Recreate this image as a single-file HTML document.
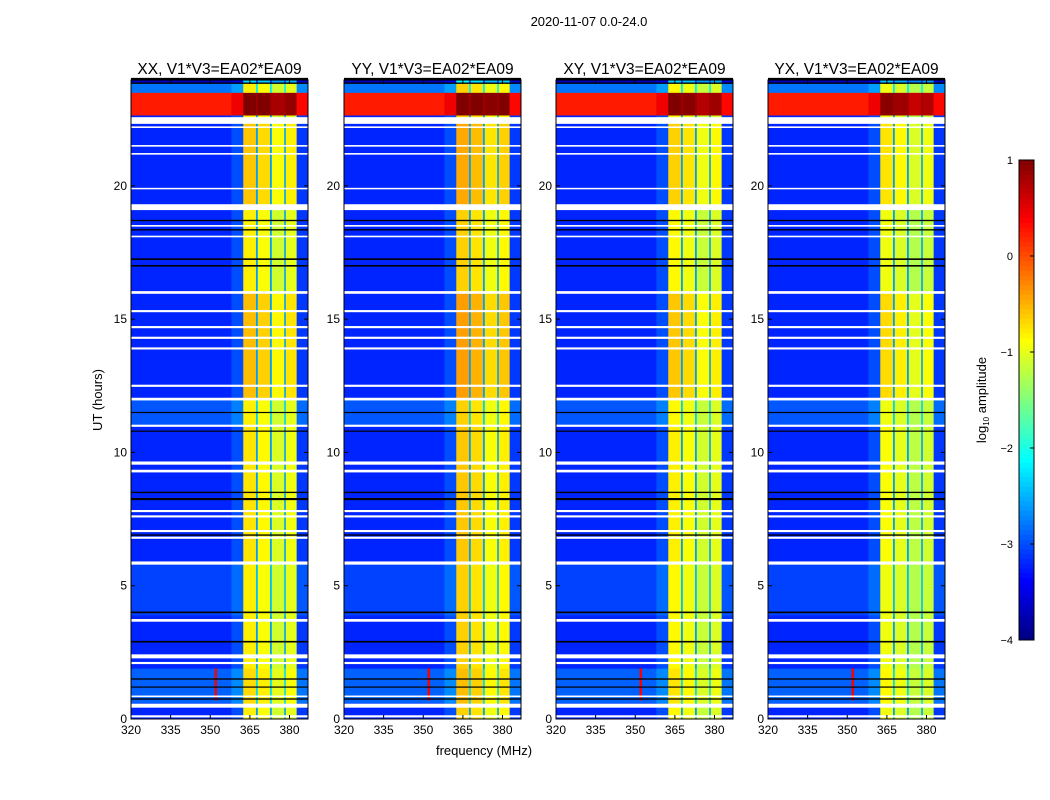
<!DOCTYPE html>
<html><head><meta charset="utf-8"><style>
html,body{margin:0;padding:0;background:#fff;}
svg{display:block;font-family:"Liberation Sans",sans-serif;}
</style></head><body>
<svg id="chart" width="1050" height="800" viewBox="0 0 1050 800" xmlns="http://www.w3.org/2000/svg">
<text x="589" y="26" font-size="13" text-anchor="middle">2020-11-07 0.0-24.0</text>
<text x="0" y="0" font-size="13" text-anchor="middle" transform="translate(102,400) rotate(-90)">UT (hours)</text>
<text x="484" y="755" font-size="13" text-anchor="middle">frequency (MHz)</text>
<g id="panels"></g>
<g id="cbar"></g>
<text font-size="13" text-anchor="middle" transform="translate(986,400) rotate(-90)">log<tspan font-size="8" dy="3">10</tspan><tspan dy="-3"> amplitude</tspan></text>
</svg>
<script>
const panelTitles = ["XX, V1*V3=EA02*EA09","YY, V1*V3=EA02*EA09","XY, V1*V3=EA02*EA09","YX, V1*V3=EA02*EA09"];
const freqBands = [[320,358],[358,362.5],[362.5,367.3],[367.3,368],[368,372.6],[372.6,373.3],[373.3,378],[378,378.6],[378.6,382.7],[382.7,387]];
const bandLevels = [-3.2,-3.0,-0.8,-2.6,-0.9,-2.6,-1.1,-2.6,-1.0,-3.1];
const brightBand = [0,0,1,0,1,0,1,0,1,0];
const panelBrightAdd = [0,0.15,-0.05,-0.15];
const timeSegs = [[0,0.6,0,0],[0.6,1.9,0.3,0.1],[1.9,3.9,0,0],[3.9,5.9,0.15,0],[5.9,11.0,0,0.05],[11.0,12.0,0.25,0],[12.0,16.0,0,0.25],[16.0,19.2,0,0],[19.2,22.45,0,0.2],[22.45,22.65,0,0],[22.65,23.5,3.45,1.9],[23.5,23.85,0.4,0],[23.85,24,-0.5,-1.5]];
const whiteLines = [[0.1,0.08],[0.5,0.15],[0.85,0.06],[2.1,0.08],[2.35,0.15],[3.7,0.1],[5.85,0.12],[6.8,0.08],[7.05,0.08],[7.6,0.08],[7.8,0.08],[9.3,0.1],[9.6,0.12],[11.0,0.08],[12.0,0.1],[12.5,0.08],[13.9,0.08],[14.3,0.08],[14.7,0.08],[15.3,0.08],[16.0,0.1],[18.1,0.06],[18.5,0.06],[19.2,0.22],[19.9,0.05],[21.2,0.06],[21.5,0.06],[22.2,0.06],[22.45,0.25]];
const blackLines = [[0.75,0.05],[1.2,0.04],[1.5,0.05],[2.9,0.06],[4.0,0.06],[6.9,0.05],[8.25,0.08],[8.5,0.05],[10.8,0.04],[11.5,0.04],[17.0,0.06],[17.25,0.06],[18.35,0.05],[18.7,0.05],[23.85,0.05],[24.0,0.1]];
const rfiSpike = [352.0,0.7,1.9,0.4];
const yTicks = [0,5,10,15,20];
const xTicks = [320,335,350,365,380];
const cbTicks = [1,0,-1,-2,-3,-4];
const panelX = [131,344,556,768];
const PW=177, PT=80, PB=719;
const NS="http://www.w3.org/2000/svg";
function yS(t){return PB-(t/24)*(PB-PT+0.8);}
function xS(x0,f){return x0+(f-320)*(PW/(387-320));}
function jet(v){let t=(v+4)/5;t=Math.max(0,Math.min(1,t));
 const c=k=>Math.round(255*Math.max(0,Math.min(1,1.5-Math.abs(4*t-k))));
 return `rgb(${c(3)},${c(2)},${c(1)})`;}
function mk(tag,attrs,parent){const e=document.createElementNS(NS,tag);for(const k in attrs)e.setAttribute(k,attrs[k]);parent.appendChild(e);return e;}
const panels=document.getElementById('panels');
panelX.forEach((x0,p)=>{
 const g=mk('g',{},panels);
 
 
 const tt=mk('text',{x:x0+PW/2,y:74,'font-size':15.5,'text-anchor':'middle'},g);
 tt.textContent=panelTitles[p];
 
 
 timeSegs.forEach(s=>{
  freqBands.forEach((b,i)=>{
   let v=bandLevels[i]+(brightBand[i]?s[3]+panelBrightAdd[p]:s[2]);
   const r=mk('rect',{x:xS(x0,b[0]),y:yS(s[1]),width:xS(x0,b[1])-xS(x0,b[0])+0.3,height:yS(s[0])-yS(s[1])+0.3,fill:jet(v)},g);
   
   
  });
 });
 const sp=mk('rect',{x:xS(x0,rfiSpike[0])-1,y:yS(rfiSpike[2]),width:2.5,height:yS(rfiSpike[1])-yS(rfiSpike[2]),fill:jet(rfiSpike[3])},g);
 
 
 whiteLines.forEach(l=>{const r=mk('rect',{x:x0,y:yS(l[0]+l[1]/2),width:PW,height:Math.max(1.5,yS(l[0]-l[1]/2)-yS(l[0]+l[1]/2)),fill:'#fff'},g);
  
  });
 blackLines.forEach(l=>{const r=mk('rect',{x:x0,y:yS(l[0]+l[1]/2),width:PW,height:Math.max(1.2,yS(l[0]-l[1]/2)-yS(l[0]+l[1]/2)),fill:'#000'},g);
  
  });
 const fr=mk('rect',{x:x0,y:PT,width:PW,height:PB-PT,fill:'none',stroke:'#000','stroke-width':1},g);
 
 
 yTicks.forEach(t=>{const y=yS(t);
  mk('line',{x1:x0,x2:x0+4,y1:y,y2:y,stroke:'#000'},g);
  mk('line',{x1:x0+PW-4,x2:x0+PW,y1:y,y2:y,stroke:'#000'},g);
  const tx=mk('text',{x:x0-4,y:y+4,'font-size':12,'text-anchor':'end'},g);tx.textContent=t;
  
  });
 xTicks.forEach(f=>{const x=xS(x0,f);
  mk('line',{x1:x,x2:x,y1:PB,y2:PB-4,stroke:'#000'},g);
  mk('line',{x1:x,x2:x,y1:PT,y2:PT+4,stroke:'#000'},g);
  const tx=mk('text',{x:x,y:PB+15,'font-size':12,'text-anchor':'middle'},g);tx.textContent=f;
  
  });
});
const cb=document.getElementById('cbar');
const CX=1019,CW=15,CT=160,CBo=640;
for(let i=0;i<100;i++){const v=-4+5*i/100;const y=CBo-(i+1)*(CBo-CT)/100;
 const r=mk('rect',{x:CX,y:y,width:CW,height:(CBo-CT)/100+0.5,fill:jet(v+0.025)},cb);
 
 }
mk('rect',{x:CX,y:CT,width:CW,height:CBo-CT,fill:'none',stroke:'#000'},cb);
cbTicks.forEach(v=>{const y=CBo-(v+4)/5*(CBo-CT);
 mk('line',{x1:CX+CW-4,x2:CX+CW,y1:y,y2:y,stroke:'#000'},cb);
 const tx=mk('text',{x:1013,y:y+4,'font-size':11,'text-anchor':'end'},cb);tx.textContent=(v<0?'\u2212':'')+Math.abs(v);
 
 });
</script>
</body></html>
